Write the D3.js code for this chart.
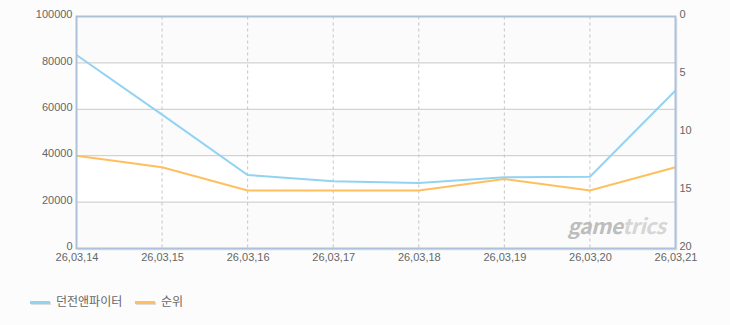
<!DOCTYPE html>
<html>
<head>
<meta charset="utf-8">
<script src="https://cdn.jsdelivr.net/npm/d3@7"></script>
<style>
  body { margin: 0; background: #fcfcfc; }
  svg { display: block; font-family: "Noto Sans CJK KR", "DejaVu Sans", sans-serif; }
  .axis text { fill: #666; font-size: 11px; }
  .legend text { fill: #666; font-size: 12px; }
</style>
</head>
<body>
<svg class="chart"></svg>
<script>
var dates = ["26,03,14", "26,03,15", "26,03,16", "26,03,17", "26,03,18", "26,03,19", "26,03,20", "26,03,21"];
var players = [83400, 57700, 31700, 29000, 28200, 30700, 30900, 68100];
var ranks = [12, 13, 15, 15, 15, 14, 15, 13];
var leftTicks = [0, 20000, 40000, 60000, 80000, 100000];
var rightTicks = [0, 5, 10, 15, 20];
var seriesNames = ["던전앤파이터", "순위"];

var width = 730,
    height = 325;

var margin = {top: 16.5, right: 54.5, bottom: 76.5, left: 76.5},
    w = width - margin.left - margin.right,
    h = height - margin.top - margin.bottom;

var x = d3.scalePoint().domain(dates).range([0, w]),
    y = d3.scaleLinear().domain([0, 100000]).range([h, 0]),
    yRank = d3.scaleLinear().domain([0, 20]).range([0, h]);

var svg = d3.select(".chart")
    .attr("width", width)
    .attr("height", height);

var chart = svg.append("g")
    .attr("transform", "translate(" + margin.left + "," + margin.top + ")");

// shadow + background bands
chart.append("rect")
    .attr("x", 2).attr("y", 2)
    .attr("width", w).attr("height", h)
    .attr("fill", "#e6e9ee");

chart.append("rect")
    .attr("width", w).attr("height", h)
    .attr("fill", "#ffffff");

chart.selectAll(".band")
    .data(d3.range(0, leftTicks.length - 1).filter(function(i) { return i % 2 == 0; }))
  .enter().append("rect")
    .attr("class", "band")
    .attr("x", 0)
    .attr("width", w)
    .attr("y", function(i) { return y(leftTicks[i + 1]); })
    .attr("height", function(i) { return y(leftTicks[i]) - y(leftTicks[i + 1]); })
    .attr("fill", "#fbfbfb");

// grid
chart.selectAll(".hgrid")
    .data(leftTicks.slice(1, -1))
  .enter().append("line")
    .attr("x1", 0).attr("x2", w)
    .attr("y1", function(d) { return y(d); })
    .attr("y2", function(d) { return y(d); })
    .attr("stroke", "#c8c8c8");

chart.selectAll(".vgrid")
    .data(dates.slice(1, -1))
  .enter().append("line")
    .attr("x1", function(d) { return x(d); })
    .attr("x2", function(d) { return x(d); })
    .attr("y1", 0).attr("y2", h)
    .attr("stroke", "#c4c4c4")
    .attr("stroke-dasharray", "3,3");

// lines
var blueLine = d3.line()
    .x(function(d, i) { return x(dates[i]); })
    .y(function(d) { return y(d); });

var rankLine = d3.line()
    .x(function(d, i) { return x(dates[i]); })
    .y(function(d) { return yRank(d); });

chart.append("path")
    .datum(ranks)
    .attr("d", rankLine)
    .attr("fill", "none")
    .attr("stroke", "#ffbf5e")
    .attr("stroke-width", 2);

chart.append("path")
    .datum(players)
    .attr("d", blueLine)
    .attr("fill", "none")
    .attr("stroke", "#93d3f2")
    .attr("stroke-width", 2);

// watermark
var mark = chart.append("text")
    .attr("x", w - 10)
    .attr("y", h - 15)
    .attr("text-anchor", "end")
    .attr("font-size", 21)
    .attr("font-weight", "bold")
    .attr("font-style", "italic")
    .attr("letter-spacing", "-0.5");
mark.append("tspan").attr("fill", "#bdbdbd").text("game");
mark.append("tspan").attr("fill", "#d6d6d6").text("trics");

// border
chart.append("rect")
    .attr("width", w).attr("height", h)
    .attr("fill", "none")
    .attr("stroke", "#adc1d8")
    .attr("stroke-width", 2);

// axes
var yAxis = d3.axisLeft(y).tickValues(leftTicks).tickSize(0).tickPadding(4).tickFormat(d3.format("d")),
    yAxisR = d3.axisRight(yRank).tickValues(rightTicks).tickSize(0).tickPadding(4),
    xAxis = d3.axisBottom(x).tickSize(0).tickPadding(5);

chart.append("g").attr("class", "y axis").call(yAxis)
    .call(function(g) { g.select(".domain").remove(); })
    .selectAll("text").attr("dy", "0.1em");

chart.append("g").attr("class", "y2 axis")
    .attr("transform", "translate(" + w + ",0)")
    .call(yAxisR)
    .call(function(g) { g.select(".domain").remove(); })
    .selectAll("text").attr("dy", "0.1em");

chart.append("g").attr("class", "x axis")
    .attr("transform", "translate(0," + h + ")")
    .call(xAxis)
    .call(function(g) { g.select(".domain").remove(); });

// legend
var legend = svg.append("g").attr("class", "legend")
    .attr("transform", "translate(30,302)");

var legendColors = ["#93d3f2", "#ffbf5e"],
    legendX = [0, 105];

var item = legend.selectAll(".item")
    .data(seriesNames)
  .enter().append("g")
    .attr("transform", function(d, i) { return "translate(" + legendX[i] + ",0)"; });

item.append("rect")
    .attr("x", 1).attr("y", 0)
    .attr("width", 20).attr("height", 3)
    .attr("fill", "#ddd");
item.append("rect")
    .attr("x", 0).attr("y", -1)
    .attr("width", 20).attr("height", 3)
    .attr("fill", function(d, i) { return legendColors[i]; });
item.append("text")
    .attr("x", 26)
    .attr("y", 0)
    .attr("dy", "0.35em")
    .text(function(d) { return d; });
</script>
</body>
</html>
